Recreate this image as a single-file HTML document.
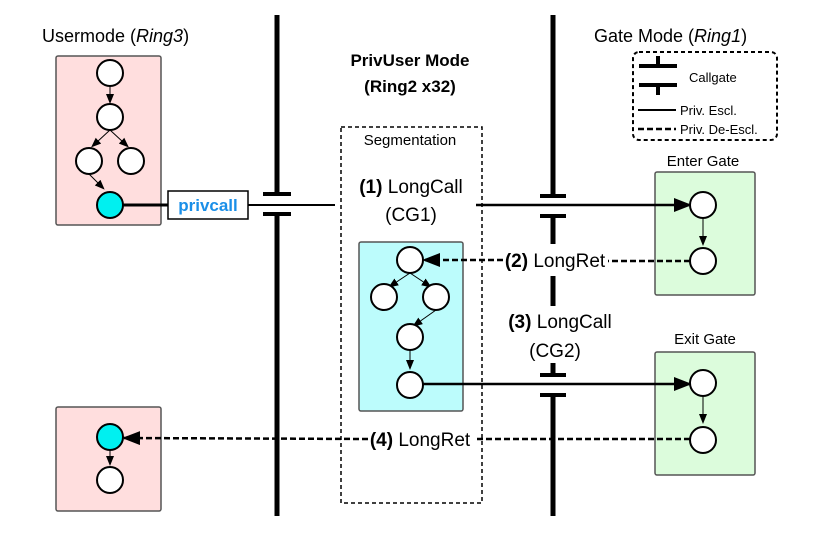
<!DOCTYPE html>
<html><head><meta charset="utf-8"><style>body{margin:0;background:#fff}svg{display:block}text{font-family:"Liberation Sans",Arial,sans-serif}</style></head>
<body>
<svg width="830" height="533" viewBox="0 0 830 533" xmlns="http://www.w3.org/2000/svg">
<defs>
<marker id="a" markerWidth="10" markerHeight="8" refX="2" refY="4" orient="auto" markerUnits="userSpaceOnUse"><path d="M0,0 L10,4 L0,8z" fill="#000"/></marker>
<marker id="big" markerWidth="18" markerHeight="14" refX="16" refY="7" orient="auto" markerUnits="userSpaceOnUse"><path d="M0,0 L18,7 L0,14z" fill="#000"/></marker>
</defs>
<text x="703" y="166" font-size="15" text-anchor="middle">Enter Gate</text>
<rect x="655" y="172" width="100" height="123" rx="2" fill="#dcfcdc" stroke="#555" stroke-width="1.5"/>
<text x="705" y="344" font-size="15" text-anchor="middle">Exit Gate</text>
<rect x="655" y="352" width="100" height="123" rx="2" fill="#dcfcdc" stroke="#555" stroke-width="1.5"/>
<g stroke="#000" stroke-width="5">
<line x1="277" y1="15" x2="277" y2="193"/>
<line x1="277" y1="214" x2="277" y2="516"/>
<line x1="553" y1="15" x2="553" y2="196"/>
<line x1="553" y1="216" x2="553" y2="244"/>
<line x1="553" y1="276" x2="553" y2="306"/>
<line x1="553" y1="363" x2="553" y2="375"/>
<line x1="553" y1="395" x2="553" y2="516"/>
</g>
<g stroke="#000" stroke-width="4">
<line x1="263" y1="194" x2="291" y2="194"/><line x1="263" y1="214" x2="291" y2="214"/>
<line x1="540" y1="196" x2="566" y2="196"/><line x1="540" y1="216" x2="566" y2="216"/>
<line x1="540" y1="375" x2="566" y2="375"/><line x1="540" y1="395" x2="566" y2="395"/>
</g>
<text x="42" y="42" font-size="18">Usermode (<tspan font-style="italic">Ring3</tspan>)</text>
<text x="410" y="66" font-size="17" font-weight="bold" text-anchor="middle">PrivUser Mode</text>
<text x="410" y="92" font-size="17" font-weight="bold" text-anchor="middle">(Ring2 x32)</text>
<text x="594" y="42" font-size="18">Gate Mode (<tspan font-style="italic">Ring1</tspan>)</text>
<rect x="633" y="52" width="144" height="88" rx="6" fill="none" stroke="#000" stroke-width="2" stroke-dasharray="4,3"/>
<g stroke="#000" stroke-width="4"><line x1="639" y1="66" x2="677" y2="66"/><line x1="658" y1="56" x2="658" y2="66"/><line x1="639" y1="85" x2="677" y2="85"/><line x1="658" y1="85" x2="658" y2="95"/></g>
<text x="689" y="82" font-size="13">Callgate</text>
<line x1="638" y1="110" x2="676" y2="110" stroke="#000" stroke-width="2"/>
<text x="680" y="115" font-size="13">Priv. Escl.</text>
<line x1="638" y1="129" x2="676" y2="129" stroke="#000" stroke-width="2.5" stroke-dasharray="6,3"/>
<text x="680" y="134" font-size="13">Priv. De-Escl.</text>
<rect x="56" y="56" width="105" height="169" rx="2" fill="#ffdede" stroke="#555" stroke-width="1.5"/>
<g stroke="#000" stroke-width="1" marker-end="url(#a)">
<line x1="110" y1="86" x2="110" y2="96"/>
<line x1="110" y1="130" x2="97" y2="142"/>
<line x1="110" y1="130" x2="123" y2="142"/>
<line x1="89" y1="174" x2="99" y2="184"/>
</g>
<g fill="#fff" stroke="#000" stroke-width="2">
<circle cx="110" cy="73" r="13"/><circle cx="110" cy="117" r="13"/><circle cx="89" cy="161" r="13"/><circle cx="131" cy="161" r="13"/>
</g>
<line x1="123" y1="205" x2="168" y2="205" stroke="#000" stroke-width="3"/>
<circle cx="110" cy="205" r="13" fill="#00f0f0" stroke="#000" stroke-width="2"/>
<rect x="168" y="191" width="80" height="28" fill="#fff" stroke="#000" stroke-width="1.5"/>
<text x="208" y="211" font-size="17" font-weight="bold" fill="#1a8fe8" text-anchor="middle">privcall</text>
<line x1="248" y1="205" x2="335" y2="205" stroke="#000" stroke-width="2"/>
<rect x="341" y="127" width="141" height="376" fill="none" stroke="#000" stroke-width="1.5" stroke-dasharray="4,3"/>
<text x="410" y="145" font-size="15" text-anchor="middle">Segmentation</text>
<text x="411" y="193" font-size="19" text-anchor="middle"><tspan font-weight="bold">(1)</tspan> LongCall</text>
<text x="411" y="221" font-size="19" text-anchor="middle">(CG1)</text>
<line x1="476" y1="205" x2="690" y2="205" stroke="#000" stroke-width="2.5" marker-end="url(#big)"/>
<rect x="359" y="242" width="104" height="169" rx="2" fill="#bcfcfc" stroke="#555" stroke-width="1.5"/>
<g stroke="#000" stroke-width="1" marker-end="url(#a)">
<line x1="410" y1="273" x2="395" y2="283"/>
<line x1="410" y1="273" x2="425" y2="283"/>
<line x1="436" y1="310" x2="419" y2="322"/>
<line x1="410" y1="350" x2="410" y2="362"/>
</g>
<g fill="#fff" stroke="#000" stroke-width="2">
<ellipse cx="410" cy="260" rx="13" ry="13"/><ellipse cx="384" cy="297" rx="13" ry="13"/><ellipse cx="436" cy="297" rx="13" ry="13"/><ellipse cx="410" cy="337" rx="13" ry="13"/><ellipse cx="410" cy="385" rx="13" ry="13"/>
</g>
<line x1="690" y1="261" x2="608" y2="261" stroke="#000" stroke-width="2.5" stroke-dasharray="6,3"/>
<line x1="503" y1="260" x2="424" y2="260" stroke="#000" stroke-width="2.5" stroke-dasharray="6,3" marker-end="url(#big)"/>
<rect x="503" y="248" width="104" height="24" fill="#fff"/>
<text x="555" y="267" font-size="19" text-anchor="middle"><tspan font-weight="bold">(2)</tspan> LongRet</text>
<text x="560" y="328" font-size="19" text-anchor="middle"><tspan font-weight="bold">(3)</tspan> LongCall</text>
<text x="555" y="357" font-size="19" text-anchor="middle">(CG2)</text>
<line x1="423" y1="384" x2="690" y2="384" stroke="#000" stroke-width="2.5" marker-end="url(#big)"/>
<g stroke="#000" stroke-width="1" marker-end="url(#a)">
<line x1="703" y1="218" x2="703" y2="238"/><line x1="703" y1="397" x2="703" y2="416"/>
</g>
<rect x="56" y="407" width="105" height="104" rx="2" fill="#ffdede" stroke="#555" stroke-width="1.5"/>
<line x1="110" y1="450" x2="110" y2="458" stroke="#000" stroke-width="1" marker-end="url(#a)"/>
<line x1="690" y1="439" x2="474" y2="439" stroke="#000" stroke-width="2.5" stroke-dasharray="6,3"/>
<line x1="368" y1="439" x2="124" y2="438" stroke="#000" stroke-width="2.5" stroke-dasharray="6,3" marker-end="url(#big)"/>
<ellipse cx="110" cy="437" rx="13" ry="13" fill="#00f0f0" stroke="#000" stroke-width="2"/>
<ellipse cx="110" cy="480" rx="13" ry="13" fill="#fff" stroke="#000" stroke-width="2"/>
<rect x="368" y="427" width="105" height="24" fill="#fff"/>
<text x="420" y="446" font-size="19" text-anchor="middle"><tspan font-weight="bold">(4)</tspan> LongRet</text>
<g fill="#fff" stroke="#000" stroke-width="2">
<ellipse cx="703" cy="205" rx="13" ry="13"/><ellipse cx="703" cy="261" rx="13" ry="13"/><ellipse cx="703" cy="383" rx="13" ry="13"/><ellipse cx="703" cy="440" rx="13" ry="13"/>
</g>
</svg>
</body></html>
